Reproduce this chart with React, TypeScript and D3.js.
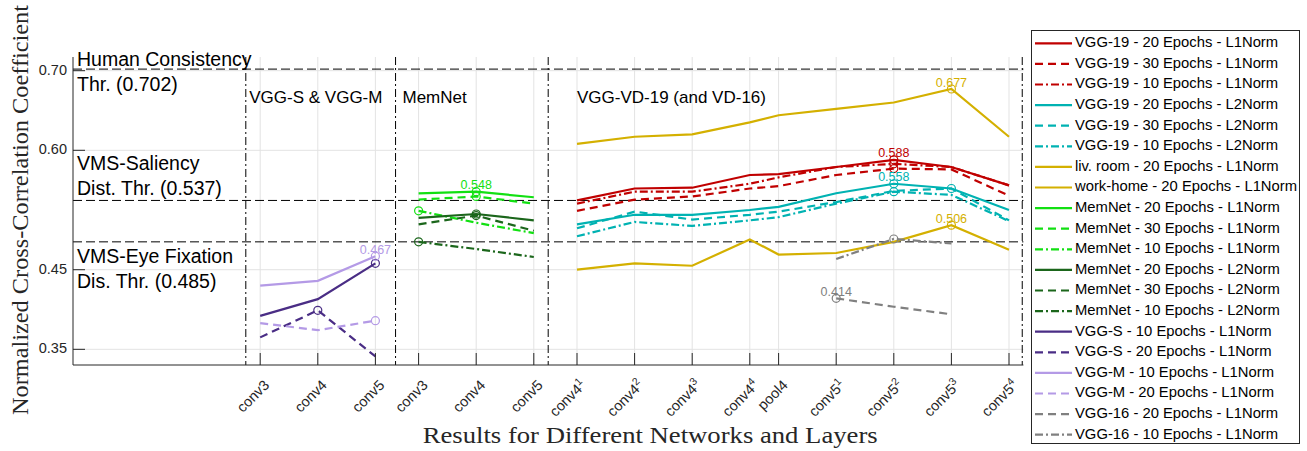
import * as d3 from "d3";

const WIDTH = 1307;
const HEIGHT = 451;
const SANS = "'Liberation Sans', Arial, Helvetica, sans-serif";
const SERIF = "'Liberation Serif', 'Times New Roman', serif";
const AXIS = "#262626";

// x categories (layer names, superscripts, slot on the x axis)
const tickNames = ["conv3", "conv4", "conv5", "conv3", "conv4", "conv5", "conv4", "conv4", "conv4", "conv4", "pool4", "conv5", "conv5", "conv5", "conv5"];
const tickSups = ["", "", "", "", "", "", "1", "2", "3", "4", "", "1", "2", "3", "4"];
const tickSlots = [3.25, 4.25, 5.25, 6, 7, 8, 8.75, 9.75, 10.75, 11.75, 12.25, 13.25, 14.25, 15.25, 16.25];
const separatorSlots = [3.0, 5.6, 8.25, 16.48];
const groupNames = ["VGG-S & VGG-M", "MemNet", "VGG-VD-19 (and VD-16)"];
const groupSlots = [3.06, 5.72, 8.75];

const yTicks = [0.35, 0.45, 0.6, 0.7];
const thresholds = [0.702, 0.537, 0.485];
const thresholdText = [
  ["Human Consistency", "Thr. (0.702)"],
  ["VMS-Saliency", "Dist. Thr. (0.537)"],
  ["VMS-Eye Fixation", "Dis. Thr. (0.485)"],
];

// series values
const vgg19L1_20 = [0.537, 0.552, 0.553, 0.569, 0.57, 0.579, 0.588, 0.579, 0.556];
const vgg19L1_30 = [0.524, 0.538, 0.542, 0.552, 0.555, 0.569, 0.577, 0.576, 0.543];
const vgg19L1_10 = [0.533, 0.548, 0.548, 0.558, 0.566, 0.579, 0.583, 0.579, 0.556];
const vgg19L2_20 = [0.507, 0.519, 0.519, 0.525, 0.529, 0.546, 0.558, 0.552, 0.525];
const vgg19L2_30 = [0.502, 0.523, 0.513, 0.519, 0.523, 0.535, 0.549, 0.552, 0.512];
const vgg19L2_10 = [0.492, 0.51, 0.505, 0.512, 0.516, 0.533, 0.548, 0.544, 0.511];
const livRoom = [0.608, 0.617, 0.62, 0.635, 0.644, 0.652, 0.66, 0.677, 0.617];
const workHome = [0.45, 0.458, 0.455, 0.488, 0.469, 0.471, 0.485, 0.506, 0.475];
const memL1_20 = [0.546, 0.548, 0.541];
const memL1_30 = [0.538, 0.542, 0.533];
const memL1_10 = [0.524, 0.509, 0.496];
const memL2_20 = [0.515, 0.52, 0.512];
const memL2_30 = [0.507, 0.518, 0.499];
const memL2_10 = [0.485, 0.476, 0.466];
const vggS_10 = [0.392, 0.413, 0.458];
const vggS_20 = [0.365, 0.399, 0.341];
const vggM_10 = [0.43, 0.436, 0.467];
const vggM_20 = [0.383, 0.374, 0.386];
const vgg16_20 = [0.414, 0.4035, 0.394];
const vgg16_10 = [0.4635, 0.4886, 0.483];

const RED = "#c00000";
const CYAN = "#00b2b2";
const GOLD = "#d4b000";
const LIME = "#12e012";
const DKGREEN = "#1b661b";
const DKPURPLE = "#4a2d85";
const LTPURPLE = "#b49ae6";
const GREY = "#808080";

const DASH = "8,5";
const DASHDOT = "8,3,2,3";

type Series = { name: string; values: number[]; start: number; color: string; dash?: string; label?: boolean };

const series: Series[] = [
  { name: "VGG-19 - 20 Epochs - L1Norm", values: vgg19L1_20, start: 6, color: RED, label: true },
  { name: "VGG-19 - 30 Epochs - L1Norm", values: vgg19L1_30, start: 6, color: RED, dash: DASH },
  { name: "VGG-19 - 10 Epochs - L1Norm", values: vgg19L1_10, start: 6, color: RED, dash: DASHDOT },
  { name: "VGG-19 - 20 Epochs - L2Norm", values: vgg19L2_20, start: 6, color: CYAN, label: true },
  { name: "VGG-19 - 30 Epochs - L2Norm", values: vgg19L2_30, start: 6, color: CYAN, dash: DASH },
  { name: "VGG-19 - 10 Epochs - L2Norm", values: vgg19L2_10, start: 6, color: CYAN, dash: DASHDOT },
  { name: "liv. room - 20 Epochs - L1Norm", values: livRoom, start: 6, color: GOLD, label: true },
  { name: "work-home - 20 Epochs - L1Norm", values: workHome, start: 6, color: GOLD, label: true },
  { name: "MemNet - 20 Epochs - L1Norm", values: memL1_20, start: 3, color: LIME, label: true },
  { name: "MemNet - 30 Epochs - L1Norm", values: memL1_30, start: 3, color: LIME, dash: DASH },
  { name: "MemNet - 10 Epochs - L1Norm", values: memL1_10, start: 3, color: LIME, dash: DASHDOT },
  { name: "MemNet - 20 Epochs - L2Norm", values: memL2_20, start: 3, color: DKGREEN },
  { name: "MemNet - 30 Epochs - L2Norm", values: memL2_30, start: 3, color: DKGREEN, dash: DASH },
  { name: "MemNet - 10 Epochs - L2Norm", values: memL2_10, start: 3, color: DKGREEN, dash: DASHDOT },
  { name: "VGG-S - 10 Epochs - L1Norm", values: vggS_10, start: 0, color: DKPURPLE },
  { name: "VGG-S - 20 Epochs - L1Norm", values: vggS_20, start: 0, color: DKPURPLE, dash: DASH },
  { name: "VGG-M - 10 Epochs - L1Norm", values: vggM_10, start: 0, color: LTPURPLE, label: true },
  { name: "VGG-M - 20 Epochs - L1Norm", values: vggM_20, start: 0, color: LTPURPLE, dash: DASH },
  { name: "VGG-16 - 20 Epochs - L1Norm", values: vgg16_20, start: 11, color: GREY, dash: DASH, label: true },
  { name: "VGG-16 - 10 Epochs - L1Norm", values: vgg16_10, start: 11, color: GREY, dash: DASHDOT },
];

const PLOT = { left: 73, right: 1023.4, top: 57, bottom: 365 };

export default function App() {
  const x = d3.scaleLinear().domain([0, 16.5]).range([PLOT.left, PLOT.right]);
  const y = d3.scaleLinear().domain([0.3303, 0.7172]).range([PLOT.bottom, PLOT.top]);

  const line = d3
    .line<[number, number]>()
    .x((d) => x(d[0]))
    .y((d) => y(d[1]));

  const pts = (s: Series): [number, number][] =>
    s.values.map((v, i) => [tickSlots[s.start + i], v]);

  // label offsets for the threshold texts (first line baseline, relative to the line)
  const thrOffsets = [-3, -30, 21.5];

  return (
    <svg
      width={WIDTH}
      height={HEIGHT}
      style={{ position: "absolute", left: 0, top: 0, background: "#fff" }}
      fontFamily={SANS}
    >
      <rect width={WIDTH} height={HEIGHT} fill="#fff" />

      {/* grid */}
      <g stroke="#e3e3e3" strokeWidth={1}>
        {yTicks.map((t) => (
          <line key={t} x1={PLOT.left} x2={PLOT.right} y1={y(t)} y2={y(t)} />
        ))}
        {tickSlots.map((s, i) => (
          <line key={i} x1={x(s)} x2={x(s)} y1={PLOT.top} y2={PLOT.bottom} />
        ))}
      </g>

      {/* thresholds */}
      {thresholds.map((t) => (
        <line key={t} x1={PLOT.left} x2={PLOT.right} y1={y(t)} y2={y(t)} stroke="#000" strokeWidth={1} strokeDasharray="9,4" />
      ))}
      {thresholds.map((t, i) => (
        <text key={"tt" + i} x={77} y={y(t) + thrOffsets[i]} fontSize={19.5} fill="#000">
          <tspan x={77}>{thresholdText[i][0]}</tspan>
          <tspan x={77} dy={25}>{thresholdText[i][1]}</tspan>
        </text>
      ))}

      {/* separators */}
      {separatorSlots.map((s) => (
        <line key={s} x1={x(s)} x2={x(s)} y1={PLOT.top} y2={PLOT.bottom} stroke="#000" strokeWidth={1} strokeDasharray={DASHDOT} />
      ))}
      {groupNames.map((g, i) => (
        <text key={g} x={x(groupSlots[i])} y={103} fontSize={17} fill="#000">
          {g}
        </text>
      ))}

      {/* series */}
      {series.map((s) => (
        <path key={s.name} d={line(pts(s)) ?? ""} fill="none" stroke={s.color} strokeWidth={2.2} strokeDasharray={s.dash} />
      ))}
      {series.map((s) => {
        const i = d3.maxIndex(s.values);
        const px = x(tickSlots[s.start + i]);
        const py = y(s.values[i]);
        return (
          <g key={"m" + s.name}>
            <circle cx={px} cy={py} r={4} fill="none" stroke={s.color} strokeWidth={1.2} />
            {s.label && (
              <text x={px} y={py - 2.5} textAnchor="middle" fontSize={12.5} fill={s.color}>
                {d3.format(".3f")(s.values[i])}
              </text>
            )}
          </g>
        );
      })}

      {/* axes */}
      <line x1={PLOT.left} x2={PLOT.left} y1={PLOT.top} y2={PLOT.bottom} stroke={AXIS} />
      <line x1={PLOT.left} x2={PLOT.right} y1={PLOT.bottom} y2={PLOT.bottom} stroke={AXIS} />
      {yTicks.map((t) => (
        <g key={t}>
          <line x1={PLOT.left} x2={PLOT.left + 12} y1={y(t)} y2={y(t)} stroke={AXIS} />
          <text x={67} y={y(t)} textAnchor="end" dominantBaseline="middle" fontSize={14.5} fill={AXIS}>
            {d3.format(".2f")(t)}
          </text>
        </g>
      ))}
      {tickSlots.map((s, i) => (
        <g key={"xt" + i}>
          <line x1={x(s)} x2={x(s)} y1={PLOT.bottom} y2={PLOT.bottom - 12} stroke={AXIS} />
          <g transform={`translate(${x(s) + 10},${386}) rotate(-45)`}>
            <text textAnchor="end" fontSize={14.5} fill={AXIS}>
              {tickNames[i]}
              {tickSups[i] && (
                <tspan dy={-6} fontSize={10.5}>
                  {tickSups[i]}
                </tspan>
              )}
            </text>
          </g>
        </g>
      ))}

      {/* axis titles */}
      <text transform="translate(28,415) rotate(-90)" fontFamily={SERIF} fontSize={23} fill={AXIS} textLength={410} lengthAdjust="spacingAndGlyphs">
        Normalized Cross-Correlation Coefficient
      </text>
      <text x={422.7} y={443} fontFamily={SERIF} fontSize={23} fill={AXIS} textLength={455} lengthAdjust="spacingAndGlyphs">
        Results for Different Networks and Layers
      </text>

      {/* legend */}
      <rect x={1031.5} y={30.5} width={268} height={413} fill="#fff" stroke={AXIS} strokeWidth={1} />
      {series.map((s, i) => {
        const ly = 43.3 + i * 20.6;
        return (
          <g key={"lg" + s.name}>
            <line x1={1035} x2={1072} y1={ly} y2={ly} stroke={s.color} strokeWidth={2.2} strokeDasharray={s.dash} />
            <text x={1075} y={ly} dominantBaseline="middle" fontSize={14.8} fill="#000">
              {s.name}
            </text>
          </g>
        );
      })}
    </svg>
  );
}
